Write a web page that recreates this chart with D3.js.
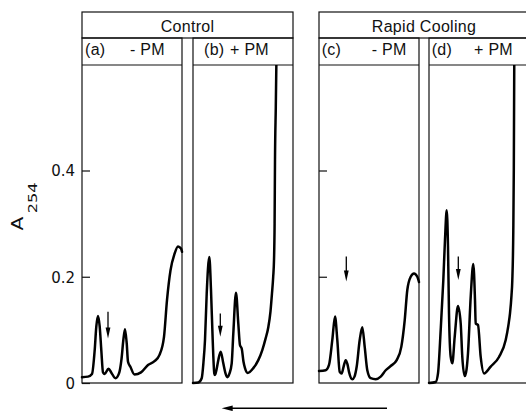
<!DOCTYPE html>
<html>
<head>
<meta charset="utf-8">
<script src="https://cdn.jsdelivr.net/npm/d3@7"></script>
<style>
  body { margin: 0; background: #fff; }
  svg { display: block; background: #fff; }
  .frame { fill: none; stroke: #111; stroke-width: 1.2; }
  .trace { fill: none; stroke: #000; stroke-width: 2.5; stroke-linejoin: round; stroke-linecap: round; }
  .head { font-family: "Liberation Sans", Arial, sans-serif; font-size: 16px; fill: #111; letter-spacing: 0.3px; }
  .tick-label { font-family: "DejaVu Sans", sans-serif; font-size: 15px; fill: #111; }
  .tick line { stroke: #111; stroke-width: 1.2; }
</style>
</head>
<body>
<svg width="526" height="411"></svg>
<script>
const groupTitles = ["Control", "Rapid Cooling"];
const panelTags = ["(a)", "(b)", "(c)", "(d)"];
const pmLabels = ["- PM", "+ PM", "- PM", "+ PM"];
const yTickValues = [0, 0.2, 0.4];
const yTickLabels = ["0", "0.2", "0.4"];

// [position across the gradient (0-100), A254]
const traceA = [[0,0.011],[6,0.012],[10,0.017],[12.7,0.062],[14.3,0.106],[16,0.126],[17.7,0.106],[19.3,0.062],[21,0.02],[22.7,0.017],[26.5,0.027],[29.5,0.019],[33.5,0.009],[37,0.018],[39.5,0.045],[41.3,0.08],[43,0.101],[44.7,0.075],[46,0.04],[48.5,0.03],[52.5,0.016],[59,0.02],[66,0.034],[72.5,0.041],[77.5,0.053],[82,0.087],[85,0.156],[88.5,0.212],[92.5,0.243],[96,0.257],[99,0.253],[100,0.247]];
const traceB = [[0,0],[5.3,0.001],[8.7,0.009],[10.5,0.04],[12,0.081],[13.7,0.168],[16.3,0.237],[18,0.175],[19.7,0.081],[21.3,0.018],[22,0.015],[23.5,0.025],[25.3,0.043],[27.7,0.059],[30.3,0.037],[32.5,0.018],[34.3,0.011],[36.5,0.018],[38.7,0.037],[40.3,0.093],[43,0.17],[45.3,0.112],[47,0.071],[48.7,0.065],[50.5,0.04],[52,0.028],[54.7,0.019],[60.3,0.028],[65.3,0.043],[69.3,0.062],[72.5,0.083],[75.3,0.105],[77.5,0.135],[79,0.169],[80.2,0.2],[81,0.231],[81.6,0.3],[82,0.42],[82.8,0.52],[83.5,0.62]];
const traceC = [[0,0.0225],[6.7,0.024],[10,0.034],[13.3,0.081],[16,0.125],[18.3,0.081],[20.7,0.021],[22.7,0.018],[24.5,0.03],[26.7,0.043],[28.5,0.035],[30,0.021],[33.3,0.007],[35.5,0.012],[37.7,0.031],[40.7,0.081],[43.3,0.105],[45.7,0.068],[48.3,0.024],[51.7,0.009],[56.7,0.007],[61.7,0.012],[66.7,0.024],[71.7,0.032],[77.7,0.043],[82.3,0.068],[85.7,0.118],[88.3,0.175],[91.7,0.2],[95,0.206],[98.3,0.2],[100,0.19]];
const traceD = [[0,0],[6.7,0.002],[9,0.018],[11.7,0.1],[14.3,0.193],[16,0.27],[17.7,0.325],[19,0.256],[20,0.131],[21.7,0.049],[23.3,0.037],[25.7,0.087],[29,0.145],[31.7,0.112],[33.3,0.049],[35.7,0.013],[37.5,0.025],[39,0.056],[41.7,0.162],[44.3,0.224],[46,0.156],[46.7,0.112],[49,0.109],[51.7,0.049],[55,0.018],[61.7,0.031],[70,0.049],[76.7,0.081],[79.5,0.11],[81,0.131],[82.5,0.165],[83.3,0.193],[84.3,0.287],[84.8,0.4],[85.3,0.62]];

// arrows marking the fraction of interest
const arrowPos = [26, 27.3, 27.3, 29.3];
const arrowTop = [0.134, 0.131, 0.238, 0.238];
const arrowTip = [0.084, 0.087, 0.191, 0.194];

const traces = [traceA, traceB, traceC, traceD];

// layout
const panelLeft = [82, 193, 319, 429];
const panelW = 100;
const groupPanels = [[0, 1], [2, 3]];
const headerTop = 12, subTop = 38, plotTop = 65, plotBottom = 383;
const tagX = [3, 11, 2.7, 2.7];
const pmX = [48, 37, 52.7, 45];

const svg = d3.select("svg");

const y = d3.scaleLinear().domain([0, 0.4]).range([plotBottom, 170.5]);

// group headers
groupPanels.forEach((ps, g) => {
  const x0 = panelLeft[ps[0]], x1 = panelLeft[ps[1]] + panelW;
  svg.append("rect").attr("class", "frame")
    .attr("x", x0).attr("y", headerTop)
    .attr("width", x1 - x0).attr("height", subTop - headerTop);
  svg.append("text").attr("class", "head")
    .attr("x", (x0 + x1) / 2).attr("y", 31.5)
    .attr("text-anchor", "middle")
    .text(groupTitles[g]);
});

const line = d3.line().curve(d3.curveMonotoneX);

traces.forEach((data, i) => {
  const left = panelLeft[i];
  const x = d3.scaleLinear().domain([0, 100]).range([left, left + panelW]);
  const g = svg.append("g");

  g.append("rect").attr("class", "frame")
    .attr("x", left).attr("y", subTop)
    .attr("width", panelW).attr("height", plotBottom - subTop);
  g.append("line").attr("class", "frame")
    .attr("x1", left).attr("x2", left + panelW)
    .attr("y1", plotTop).attr("y2", plotTop);

  g.append("text").attr("class", "head")
    .attr("x", left + tagX[i]).attr("y", 54.5).text(panelTags[i]);
  g.append("text").attr("class", "head")
    .attr("x", left + pmX[i]).attr("y", 54.5).text(pmLabels[i]);

  const clipId = "clip" + i;
  g.append("clipPath").attr("id", clipId)
    .append("rect")
    .attr("x", left - 2).attr("y", plotTop)
    .attr("width", panelW + 4).attr("height", plotBottom - plotTop + 2);

  line.x(d => x(d[0])).y(d => y(d[1]));
  g.append("path").attr("class", "trace")
    .attr("clip-path", `url(#${clipId})`)
    .attr("d", line(data));

  // arrow
  const ax = x(arrowPos[i]);
  const yTop = y(arrowTop[i]), yTip = y(arrowTip[i]);
  g.append("line")
    .attr("x1", ax).attr("x2", ax)
    .attr("y1", yTop).attr("y2", yTip - 6)
    .attr("stroke", "#000").attr("stroke-width", 1.3);
  g.append("path")
    .attr("d", `M${ax - 2.4},${yTip - 11}L${ax + 2.4},${yTip - 11}L${ax},${yTip}Z`)
    .attr("fill", "#000");

  // left ticks on first panel of each group
  if (i === 0 || i === 2) {
    const axis = d3.axisLeft(y)
      .tickValues(i === 0 ? yTickValues : yTickValues.slice(1))
      .tickSizeInner(-8).tickSizeOuter(0).tickPadding(7)
      .tickFormat(i === 0 ? (d, k) => yTickLabels[k] : "");
    const ag = g.append("g").attr("transform", `translate(${left},0)`).call(axis);
    ag.select(".domain").remove();
    ag.selectAll("text").attr("class", "tick-label")
      .attr("font-family", null).attr("font-size", null)
      .attr("dy", "0.36em");
  }
});

// y label A254
const ylab = svg.append("text")
  .attr("transform", "translate(23.3,230.5) rotate(-90) scale(1.35,1)")
  .attr("font-family", "DejaVu Sans, sans-serif")
  .attr("fill", "#111");
ylab.append("tspan").attr("font-size", 15).text("A");
ylab.append("tspan").attr("font-size", 12).attr("dx", 2.5).attr("dy", 13.4)
  .text("254");

// elution direction arrow
const arrowY = 408.3, arrowX0 = 221.7, arrowX1 = 387;
svg.append("line")
  .attr("x1", arrowX0 + 8).attr("x2", arrowX1)
  .attr("y1", arrowY).attr("y2", arrowY)
  .attr("stroke", "#000").attr("stroke-width", 1.6);
svg.append("path")
  .attr("d", `M${arrowX0},${arrowY}L${arrowX0 + 11},${arrowY - 2.8}L${arrowX0 + 11},${arrowY + 2.8}Z`)
  .attr("fill", "#000");
</script>
</body>
</html>
